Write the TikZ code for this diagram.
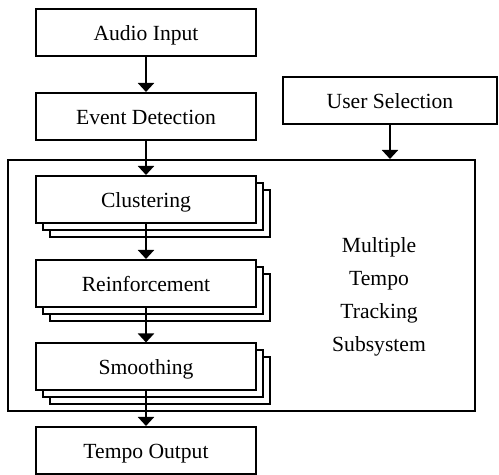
\documentclass[tikz,border=0pt]{standalone}
\usepackage{fontspec}
\setmainfont{Liberation Serif}
\usetikzlibrary{arrows.meta,shadows}

\begin{document}
\begin{tikzpicture}[x=0.5pt, y=-0.5pt, line width=1pt,
	every node/.style={font=\fontsize{10.8}{16.5}\selectfont},
	box/.style={draw, fill=white, minimum width=110pt, minimum height=23.5pt, inner sep=0pt, text height=7.7pt, text depth=0pt},
	stack/.style={box, double copy shadow={shadow xshift=3.5pt, shadow yshift=-3.5pt, fill=white, draw=black}},
	arr/.style={-{Triangle[width=8pt,length=4.5pt]}}]

	\useasboundingbox (0,0) rectangle (499,475);

	\node[box] (audio) at (146, 32.5) {Audio Input};
	\node[box] (event) at (146, 116.5) {Event Detection};
	\node[box, minimum width=107pt] (user) at (390, 101) {User Selection};
	\node[draw, minimum width=233.5pt, minimum height=125.5pt, inner sep=0pt] (multi) at (241.5, 285.5) {};
	\node[stack] (clust) at (146, 199.5) {Clustering};
	\node[stack] (reinf) at (146, 283.5) {Reinforcement};
	\node[stack] (smooth) at (146, 367) {Smoothing};
	\node[box] (tempo) at (146, 450.5) {Tempo Output};
	\node[align=center] (label) at (379, 297) {Multiple\\Tempo\\Tracking\\Subsystem};

	\draw[arr] (audio) -- (event);
	\draw[arr] (event) -- (clust);
	\draw[arr] (clust) -- (reinf);
	\draw[arr] (reinf) -- (smooth);
	\draw[arr] (smooth) -- (tempo);
	\draw[arr] (user) -- (user |- multi.north);
\end{tikzpicture}
\end{document}
